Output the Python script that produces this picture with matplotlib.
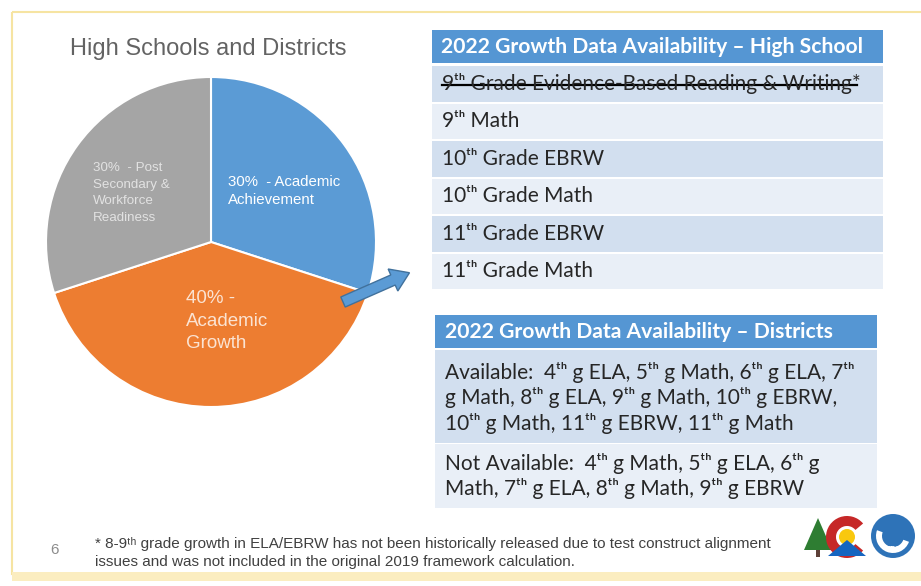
import matplotlib
matplotlib.use("Agg")
import matplotlib.pyplot as plt
from matplotlib.patches import Rectangle, FancyArrow, Circle, Polygon, Wedge

# small superscript letters come from DejaVu Sans when the main family lacks them
TH = "\u1d57\u02b0"
body_font = ["Lato", "DejaVu Sans"]
note_font = ["Liberation Sans", "DejaVu Sans"]

# pie data (clockwise from 12 o'clock)
slice_names = ["30%  - Academic\nAchievement", "40% -\nAcademic\nGrowth",
               "30%  - Post\nSecondary &\nWorkforce\nReadiness"]
slice_pct = [30, 40, 30]
slice_colors = ["#5B9BD5", "#ED7D31", "#A5A5A5"]
label_colors = ["white", "#FBE3D2", "#E2E2E2"]

hs_title = "2022 Growth Data Availability \u2013 High School"
hs_rows = [f"9{TH} Grade Evidence-Based Reading & Writing*",
           f"9{TH} Math",
           f"10{TH} Grade EBRW",
           f"10{TH} Grade Math",
           f"11{TH} Grade EBRW",
           f"11{TH} Grade Math"]
hs_struck = [True, False, False, False, False, False]

dist_title = "2022 Growth Data Availability \u2013 Districts"
dist_rows = [f"Available:  4{TH} g ELA, 5{TH} g Math, 6{TH} g ELA, 7{TH}\n"
             f"g Math, 8{TH} g ELA, 9{TH} g Math, 10{TH} g EBRW,\n"
             f"10{TH} g Math, 11{TH} g EBRW, 11{TH} g Math",
             f"Not Available:  4{TH} g Math, 5{TH} g ELA, 6{TH} g\n"
             f"Math, 7{TH} g ELA, 8{TH} g Math, 9{TH} g EBRW"]

footnote = (f"* 8-9{TH} grade growth in ELA/EBRW has not been historically released due to test construct alignment\n"
            "issues and was not included in the original 2019 framework calculation.")

W, H = 921, 586
fig = plt.figure(figsize=(W / 100, H / 100), dpi=100)
fig.patch.set_facecolor("white")

# pie first, so the overlay axes (texts, tables) sits on top of it
cx, cy, r = 211, 242, 165
pax = fig.add_axes([(cx - r) / W, (H - cy - r) / H, 2 * r / W, 2 * r / H])
pax.pie(slice_pct, colors=slice_colors, startangle=90, counterclock=False,
        wedgeprops=dict(edgecolor="white", linewidth=1.5))
pax.set_xlim(-1, 1)
pax.set_ylim(-1, 1)
pax.set_aspect("auto")

bg = fig.add_axes([0, 0, 1, 1])
bg.set_xlim(0, W)
bg.set_ylim(H, 0)
bg.axis("off")

# slide frame
bg.add_patch(Rectangle((12, 12), 915, 562, fill=False, ec="#F6E4A2", lw=1.5))
bg.add_patch(Rectangle((12, 572), 915, 9, fc="#FBEDC0", ec="none"))

bg.text(70, 49, "High Schools and Districts", fontsize=17, color="#636363",
        family="Liberation Sans", va="center")

bg.text(228, 191, slice_names[0], fontsize=10.8, color=label_colors[0],
        family="Liberation Sans", va="center", ha="left", linespacing=1.3)
bg.text(186, 321, slice_names[1], fontsize=13.5, color=label_colors[1],
        family="Liberation Sans", va="center", ha="left", linespacing=1.45)
bg.text(93, 193, slice_names[2], fontsize=9.6, color=label_colors[2],
        family="Liberation Sans", va="center", ha="left", linespacing=1.5)

# arrow
bg.add_patch(FancyArrow(343, 302, 50, -22, width=11, head_width=24, head_length=18,
                        length_includes_head=False, fc="#5B9BD5", ec="#41719C", lw=1))

# high school table
hdr_col = "#5596D3"
dark_row, light_row = "#D2DFEF", "#E9EFF7"
txt_col = "#262626"
x0, x1 = 432, 883
bg.add_patch(Rectangle((x0, 30), x1 - x0, 33, fc=hdr_col, ec="none"))
bg.text(441, 47, hs_title, fontsize=15.2, fontweight="bold", color="white",
        family="Lato", va="center")
row_top = 65
row_h = 37.5
for i, (label, struck) in enumerate(zip(hs_rows, hs_struck)):
    y = row_top + i * row_h
    bg.add_patch(Rectangle((x0, y + 1), x1 - x0, row_h - 2,
                           fc=dark_row if i % 2 == 0 else light_row, ec="none"))
    bg.text(442, y + row_h / 2, label, fontsize=15, color=txt_col, family=body_font,
            va="center")
    if struck:
        bg.plot([442, 857], [y + row_h / 2 + 1, y + row_h / 2 + 1], color="black", lw=1.6)

# districts table
dx0, dx1 = 435, 877
bg.add_patch(Rectangle((dx0, 315), dx1 - dx0, 33, fc=hdr_col, ec="none"))
bg.text(445, 332, dist_title, fontsize=15.2, fontweight="bold", color="white",
        family="Lato", va="center")
bg.add_patch(Rectangle((dx0, 350), dx1 - dx0, 93, fc=dark_row, ec="none"))
bg.add_patch(Rectangle((dx0, 444), dx1 - dx0, 64, fc=light_row, ec="none"))
bg.text(445, 398, dist_rows[0], fontsize=15, color=txt_col, family=body_font,
        va="center", linespacing=1.25)
bg.text(445, 476, dist_rows[1], fontsize=15, color=txt_col, family=body_font,
        va="center", linespacing=1.25)

# footer
bg.text(50, 550, "6", fontsize=11, color="#8C8C8C", family="Liberation Sans", va="center")
bg.text(95, 553, footnote, fontsize=11, color="#404040",
        family=note_font, va="center", linespacing=1.3)

# logos
bg.add_patch(Rectangle((816, 548), 4, 9, fc="#5D4037", ec="none"))
bg.add_patch(Polygon([[818, 518], [804, 550], [832, 550]], closed=True, fc="#2E7D32", ec="none"))
bg.add_patch(Wedge((847, 537), 21, 40, 320, width=10, fc="#C62828", ec="none"))
bg.add_patch(Circle((847, 537), 8, fc="#F9C80E", ec="none"))
bg.add_patch(Polygon([[828, 556], [847, 540], [866, 556]], closed=True, fc="#1565C0", ec="none"))
bg.add_patch(Circle((893, 536), 22, fc="#2E73B8", ec="none"))
bg.add_patch(Wedge((893, 536), 17, 20, 200, width=6, fc="white", ec="none"))
bg.text(893, 549, "CDE", fontsize=5, color="white", ha="center", va="center",
        fontweight="bold")

fig.savefig("out.png", dpi=100)
